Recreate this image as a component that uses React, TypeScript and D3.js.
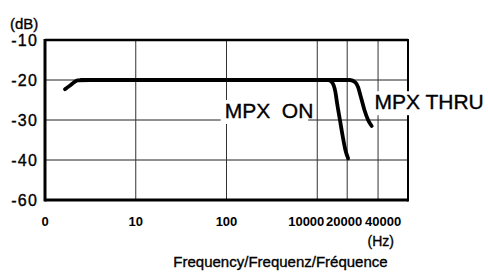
import React from "react";
import { scaleLinear, line, curveMonotoneX } from "d3";

const W = 488;
const H = 280;
const MARGIN = { top: 40, right: 80, bottom: 80, left: 45 };
const FONT = "'Liberation Sans', Arial, Helvetica, sans-serif";

// x is a stretched decade axis: 0 | 10 | 100 | 10000 then a compressed tail.
const xTickLabels = ["0", "10", "100", "10000", "20000", "40000"];
const xTickPos = [0, 1, 2, 3, 3.33, 3.67];
const xLabelShift = [0, 0, 0, -11, -3, 5];

const yTickValues = [-10, -20, -30, -40, -50];
const yTickLabels = ["-10", "-20", "-30", "-40", "-60"];
const yGrid = [-20, -30, -40];

// [decade position, dB]
const mpxOn: [number, number][] = [
  [0.22, -22.3], [0.28, -21.3], [0.36, -20.1], [0.5, -20], [3.12, -20],
  [3.16, -20.5], [3.2, -23], [3.22, -26], [3.25, -30], [3.28, -34],
  [3.31, -37.5], [3.34, -39.6],
];
const mpxThru: [number, number][] = [
  [0.4, -20], [3.36, -20], [3.42, -20.6], [3.45, -21.8], [3.48, -24.2],
  [3.52, -27.5], [3.56, -30], [3.6, -31.5],
];

const curveLabels = [
  { text: "MPX  ON", u: 1.98, db: -29.5 },
  { text: "MPX THRU", u: 3.63, db: -27.3 },
];

export default function App() {
  const innerW = W - MARGIN.left - MARGIN.right;
  const innerH = H - MARGIN.top - MARGIN.bottom;
  const x = scaleLinear().domain([0, 4]).range([MARGIN.left, MARGIN.left + innerW]);
  const y = scaleLinear().domain([-50, -10]).range([MARGIN.top + innerH, MARGIN.top]);

  const path = line<[number, number]>()
    .x((d) => x(d[0]))
    .y((d) => y(d[1]))
    .curve(curveMonotoneX);

  const left = x(0);
  const right = x(4);
  const top = y(-10);
  const bottom = y(-50);

  const ink = { fill: "#000", stroke: "#000", strokeWidth: 0.35 };

  return (
    <svg
      width={W}
      height={H}
      viewBox={`0 0 ${W} ${H}`}
      style={{ position: "absolute", left: 0, top: 0, background: "#fff" }}
      fontFamily={FONT}
    >
      <rect width={W} height={H} fill="#fff" />

      {/* grid */}
      {yGrid.map((v) => (
        <line key={`h${v}`} x1={left} x2={right} y1={y(v)} y2={y(v)} stroke="#222" strokeWidth={1} />
      ))}
      {xTickPos.slice(1).map((p) => (
        <line key={`v${p}`} x1={x(p)} x2={x(p)} y1={top} y2={bottom} stroke="#333" strokeWidth={1} />
      ))}

      {/* frame */}
      <line x1={left} x2={right} y1={top} y2={top} stroke="#000" strokeWidth={2.5} />
      <line x1={left} x2={right} y1={bottom} y2={bottom} stroke="#000" strokeWidth={3} />
      <line x1={left} x2={left} y1={top - 1} y2={bottom + 1.5} stroke="#000" strokeWidth={3} />
      <line x1={right} x2={right} y1={top - 1} y2={bottom + 1.5} stroke="#000" strokeWidth={2} />

      {/* curves */}
      <path d={path(mpxThru) ?? ""} fill="none" stroke="#000" strokeWidth={3.8} strokeLinecap="round" />
      <path d={path(mpxOn) ?? ""} fill="none" stroke="#000" strokeWidth={3.8} strokeLinecap="round" />

      {/* curve labels with white knock-out */}
      {curveLabels.map((l) => (
        <g key={l.text}>
          <rect x={x(l.u) - 4} y={y(l.db) - 18} width={l.text.length * 12.5} height={24} fill="#fff" />
          <text x={x(l.u)} y={y(l.db)} fontSize={21} {...ink} style={{ whiteSpace: "pre" }}>
            {l.text}
          </text>
        </g>
      ))}

      {/* y axis labels */}
      <text x={10} y={top - 11} fontSize={15} {...ink}>(dB)</text>
      {yTickValues.map((v, i) => (
        <text key={v} x={left - 7} y={y(v)} dy="0.35em" textAnchor="end" fontSize={16} letterSpacing={1.2} {...ink}>
          {yTickLabels[i]}
        </text>
      ))}

      {/* x axis labels */}
      {xTickPos.map((p, i) => (
        <text
          key={xTickLabels[i]}
          x={x(p) + xLabelShift[i]}
          y={bottom + 26}
          textAnchor="middle"
          fontSize={13}
          fontWeight={700}
          fill="#000"
        >
          {xTickLabels[i]}
        </text>
      ))}
      <text x={right - 14} y={bottom + 46} textAnchor="end" fontSize={14} {...ink}>(Hz)</text>
      <text x={(left + right) / 2 + 54} y={bottom + 67} textAnchor="middle" fontSize={15} {...ink}>
        Frequency/Frequenz/Fréquence
      </text>
    </svg>
  );
}
